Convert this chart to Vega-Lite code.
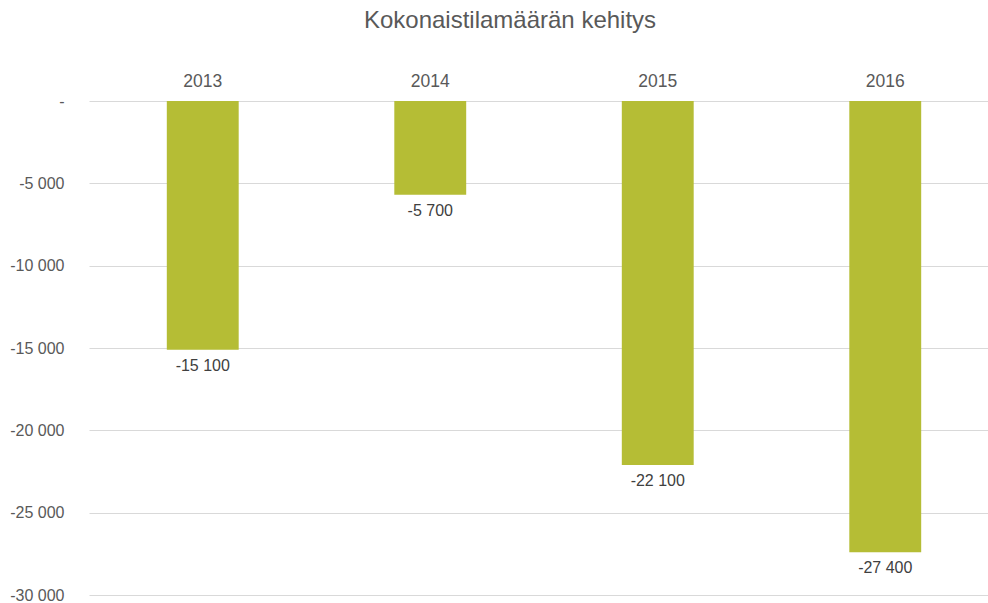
{
  "$schema": "https://vega.github.io/schema/vega-lite/v6.json",
  "autosize": {"type": "none"},
  "width": 910,
  "height": 494,
  "padding": {"left": 89, "top": 101, "right": 0, "bottom": 8},
  "background": "white",
  "config": {
    "locale": {"number": {"decimal": ",", "thousands": " ", "grouping": [3], "currency": ["", " €"], "minus": "-"}},
    "view": {"stroke": null},
    "font": "Liberation Sans"
  },
  "title": {
    "text": "Kokonaistilamäärän kehitys",
    "fontSize": 24,
    "fontWeight": "normal",
    "color": "#595959",
    "font": "Liberation Sans",
    "anchor": "middle",
    "frame": "group",
    "dx": -34,
    "offset": 39
  },
  "data": {
    "values": [
      {"vuosi": "2013", "muutos": -15100},
      {"vuosi": "2014", "muutos": -5700},
      {"vuosi": "2015", "muutos": -22100},
      {"vuosi": "2016", "muutos": -27400}
    ]
  },
  "encoding": {
    "x": {
      "field": "vuosi",
      "type": "nominal",
      "scale": {"paddingInner": 0.684, "paddingOuter": 0.342},
      "axis": {
        "orient": "top",
        "title": null,
        "domain": false,
        "ticks": false,
        "labelAngle": 0,
        "labelFontSize": 17.5,
        "labelColor": "#595959",
        "labelPadding": 11
      }
    }
  },
  "layer": [
    {
      "mark": {"type": "bar", "color": "#b5bd35"},
      "encoding": {
        "y": {
          "field": "muutos",
          "type": "quantitative",
          "scale": {"domain": [-30000, 0], "nice": false},
          "axis": {
            "title": null,
            "domain": false,
            "ticks": false,
            "values": [0, -5000, -10000, -15000, -20000, -25000, -30000],
            "labelOverlap": false,
            "labelBound": false,
            "labelExpr": "datum.value == 0 ? '-' : format(datum.value, ',')",
            "labelFontSize": 16,
            "labelColor": "#595959",
            "labelPadding": 25,
            "gridColor": "#d9d9d9",
            "gridWidth": 1
          }
        }
      }
    },
    {
      "mark": {"type": "text", "baseline": "top", "dy": 8, "fontSize": 16, "color": "#404040"},
      "encoding": {
        "y": {"field": "muutos", "type": "quantitative"},
        "text": {"field": "muutos", "type": "quantitative", "format": ","}
      }
    }
  ]
}
